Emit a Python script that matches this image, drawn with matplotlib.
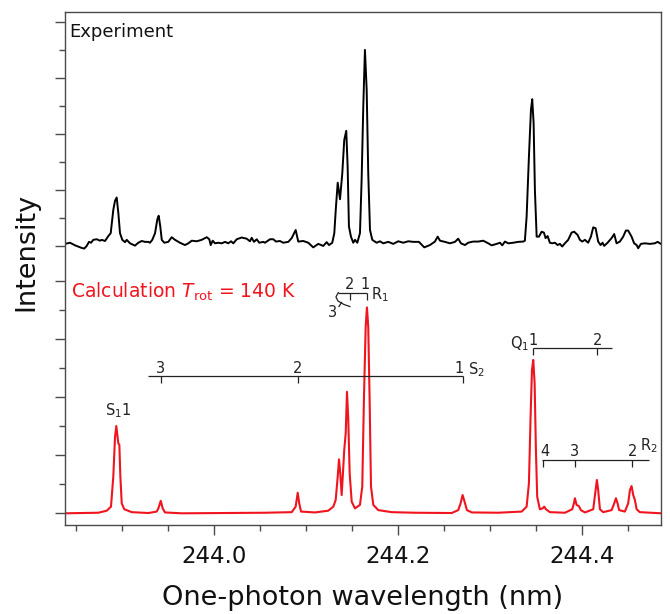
import matplotlib
matplotlib.use("Agg")
import matplotlib.pyplot as plt
import numpy as np

# ---------------- data ----------------
# Experimental trace: wavelength (nm), intensity (arb. units, relative to its own baseline)
exp_wl = [243.8380, 243.8435, 243.8489, 243.8562, 243.8590, 243.8616, 243.8641, 243.8663, 243.8688, 243.8725,
          243.8761, 243.8779, 243.8815, 243.8851, 243.8877, 243.8905, 243.8924, 243.8942, 243.8960, 243.8978,
          243.9003, 243.9033, 243.9051, 243.9087, 243.9141, 243.9177, 243.9214, 243.9250, 243.9286, 243.9304,
          243.9329, 243.9359, 243.9384, 243.9399, 243.9416, 243.9432, 243.9460, 243.9503, 243.9540, 243.9576,
          243.9630, 243.9685, 243.9721, 243.9758, 243.9812, 243.9866, 243.9921, 243.9949, 243.9964, 243.9986,
          244.0011, 244.0047, 244.0084, 244.0120, 244.0155, 244.0185, 244.0210, 244.0247, 244.0301, 244.0355,
          244.0391, 244.0410, 244.0435, 244.0464, 244.0492, 244.0536, 244.0554, 244.0609, 244.0645, 244.0674,
          244.0717, 244.0753, 244.0808, 244.0845, 244.0888, 244.0916, 244.0971, 244.1025, 244.1079, 244.1134,
          244.1188, 244.1225, 244.1250, 244.1286, 244.1308, 244.1326, 244.1345, 244.1370, 244.1395, 244.1416,
          244.1438, 244.1453, 244.1467, 244.1489, 244.1514, 244.1533, 244.1558, 244.1587, 244.1605, 244.1623,
          244.1641, 244.1660, 244.1677, 244.1696, 244.1721, 244.1768, 244.1804, 244.1840, 244.1895, 244.1949,
          244.2003, 244.2058, 244.2112, 244.2166, 244.2228, 244.2286, 244.2348, 244.2402, 244.2432, 244.2457,
          244.2511, 244.2565, 244.2620, 244.2655, 244.2685, 244.2728, 244.2764, 244.2818, 244.2873, 244.2927,
          244.2982, 244.3018, 244.3073, 244.3109, 244.3134, 244.3163, 244.3199, 244.3253, 244.3308, 244.3362,
          244.3380, 244.3399, 244.3424, 244.3446, 244.3460, 244.3475, 244.3489, 244.3508, 244.3533, 244.3562,
          244.3587, 244.3605, 244.3627, 244.3652, 244.3677, 244.3707, 244.3736, 244.3761, 244.3786, 244.3815,
          244.3851, 244.3888, 244.3916, 244.3953, 244.3978, 244.4003, 244.4033, 244.4068, 244.4098, 244.4123,
          244.4149, 244.4177, 244.4203, 244.4225, 244.4242, 244.4279, 244.4323, 244.4351, 244.4377, 244.4413,
          244.4449, 244.4478, 244.4503, 244.4540, 244.4568, 244.4595, 244.4612, 244.4641, 244.4685, 244.4739,
          244.4793, 244.4823, 244.4859]
exp_int = [0.006, 0.010, 0.001, -0.008, -0.010, -0.001, 0.013, 0.010, 0.020, 0.022,
           0.017, 0.020, 0.016, 0.033, 0.043, 0.123, 0.155, 0.166, 0.112, 0.043,
           0.020, 0.012, 0.020, 0.008, 0.000, 0.010, 0.016, 0.013, 0.013, 0.010,
           0.020, 0.043, 0.091, 0.103, 0.066, 0.020, 0.010, 0.013, 0.029, 0.020,
           0.010, 0.002, 0.008, 0.017, 0.015, 0.020, 0.029, 0.022, 0.002, 0.017,
           0.008, 0.010, 0.008, 0.013, 0.008, 0.015, 0.008, 0.022, 0.028, 0.024,
           0.015, 0.027, 0.013, 0.022, 0.010, 0.013, 0.010, 0.022, 0.022, 0.014,
           0.016, 0.010, 0.013, 0.026, 0.054, 0.014, 0.016, 0.010, -0.006, 0.006,
           -0.001, 0.012, 0.002, 0.010, 0.043, 0.134, 0.217, 0.160, 0.250, 0.364,
           0.396, 0.272, 0.066, 0.031, 0.010, 0.020, 0.010, 0.043, 0.227, 0.479,
           0.675, 0.537, 0.250, 0.054, 0.020, 0.010, 0.015, 0.008, 0.013, 0.006,
           0.015, 0.010, 0.015, 0.013, 0.013, -0.006, 0.002, 0.014, 0.031, 0.017,
           0.013, 0.008, 0.013, 0.024, 0.008, 0.002, 0.010, 0.014, 0.014, 0.017,
           0.008, 0.001, 0.006, 0.010, 0.001, 0.014, 0.008, 0.010, 0.013, 0.014,
           0.017, 0.100, 0.307, 0.468, 0.505, 0.422, 0.192, 0.031, 0.031, 0.048,
           0.045, 0.026, 0.033, 0.010, 0.008, 0.010, 0.002, 0.006, -0.003, 0.008,
           0.020, 0.045, 0.048, 0.037, 0.020, 0.014, 0.020, 0.010, 0.031, 0.063,
           0.060, 0.014, 0.002, 0.010, -0.001, 0.010, 0.026, 0.040, 0.008, 0.014,
           0.031, 0.052, 0.052, 0.031, 0.008, 0.002, -0.009, 0.006, 0.008, 0.006,
           0.008, 0.013, 0.006]
exp_offset = 0.923          # vertical offset of the experimental trace

# Calculated trace (T_rot = 140 K)
calc_wl = [243.8380, 243.8742, 243.8834, 243.8880, 243.8905, 243.8924, 243.8938, 243.8949, 243.8960, 243.8971,
           243.8982, 243.8997, 243.9025, 243.9105, 243.9286, 243.9377, 243.9395, 243.9421, 243.9442, 243.9467,
           243.9649, 244.0554, 244.0845, 244.0888, 244.0910, 244.0927, 244.0946, 244.1098, 244.1242, 244.1297,
           244.1323, 244.1345, 244.1359, 244.1373, 244.1388, 244.1402, 244.1416, 244.1432, 244.1446, 244.1460,
           244.1475, 244.1497, 244.1533, 244.1587, 244.1612, 244.1630, 244.1649, 244.1663, 244.1677, 244.1692,
           244.1707, 244.1732, 244.1786, 244.1932, 244.2185, 244.2584, 244.2655, 244.2679, 244.2703, 244.2728,
           244.2750, 244.2804, 244.3090, 244.3345, 244.3399, 244.3424, 244.3442, 244.3457, 244.3471, 244.3486,
           244.3500, 244.3514, 244.3543, 244.3573, 244.3590, 244.3609, 244.3652, 244.3815, 244.3895, 244.3913,
           244.3924, 244.3942, 244.3967, 244.3989, 244.4033, 244.4123, 244.4149, 244.4163, 244.4177, 244.4196,
           244.4232, 244.4323, 244.4351, 244.4370, 244.4388, 244.4405, 244.4467, 244.4503, 244.4522, 244.4540,
           244.4558, 244.4576, 244.4595, 244.4630, 244.4866]
calc_int = [0.000, 0.002, 0.009, 0.023, 0.126, 0.264, 0.301, 0.270, 0.241, 0.236,
            0.126, 0.034, 0.014, 0.004, 0.001, 0.006, 0.017, 0.043, 0.017, 0.003,
            0.000, 0.002, 0.004, 0.023, 0.071, 0.034, 0.006, 0.003, 0.009, 0.023,
            0.046, 0.126, 0.186, 0.138, 0.063, 0.138, 0.218, 0.276, 0.419, 0.322,
            0.138, 0.040, 0.017, 0.029, 0.092, 0.391, 0.643, 0.710, 0.643, 0.391,
            0.092, 0.029, 0.011, 0.004, 0.002, 0.001, 0.011, 0.032, 0.063, 0.036,
            0.011, 0.003, 0.002, 0.006, 0.023, 0.103, 0.333, 0.494, 0.529, 0.448,
            0.218, 0.057, 0.014, 0.017, 0.023, 0.014, 0.004, 0.002, 0.014, 0.034,
            0.052, 0.029, 0.025, 0.011, 0.003, 0.014, 0.080, 0.115, 0.080, 0.014,
            0.004, 0.011, 0.034, 0.052, 0.034, 0.011, 0.006, 0.034, 0.080, 0.094,
            0.063, 0.046, 0.014, 0.004, 0.000]

# Rotational-line assignment combs: (bar height, bar start, bar end, tick wavelengths, tick labels)
s2_y, s2_span = 0.473, (243.9283, 244.2703)
s2_ticks, s2_labels = [243.9421, 244.0913, 244.2703], ["3", "2", "1"]
r1_y, r1_span = 0.761, (244.1351, 244.1663)
r1_ticks, r1_labels = [244.1478, 244.1663], ["2", "1"]
q1_y, q1_span = 0.569, (244.3471, 244.4323)
q1_ticks, q1_labels = [244.3471, 244.4166], ["1", "2"]
r2_y, r2_span = 0.184, (244.3568, 244.4732)
r2_ticks, r2_labels = [244.3576, 244.3924, 244.4547], ["4", "3", "2"]

# y tick marks (two stacked panels)
calc_yticks = [0.0, 0.1, 0.2, 0.3, 0.4, 0.5, 0.6, 0.7, 0.8]
exp_ytick_step = 0.0962
n_exp_yticks = 9

xlim = (243.838, 244.486)
ylim = (-0.0403, 1.7286)

# ---------------- plot ----------------
RED = "#f0141e"
INK = "#222222"
plt.rcParams["font.family"] = ["DejaVu Sans"]

fig = plt.figure(figsize=(6.70, 6.14), dpi=100)
ax = fig.add_axes([65 / 670, 89 / 614, 596 / 670, 513 / 614])

ax.plot(exp_wl, np.array(exp_int) + exp_offset, color="black", lw=1.4, solid_joinstyle="round")
ax.plot(calc_wl, calc_int, color=RED, lw=1.5, solid_joinstyle="round")

ax.set_xlim(*xlim)
ax.set_ylim(*ylim)

# axes styling
for sp in ax.spines.values():
    sp.set_color("#4a4a4a")
    sp.set_linewidth(1.0)

ax.set_xticks([244.0, 244.2, 244.4])
ax.set_xticklabels(["244.0", "244.2", "244.4"])
ax.set_xticks(np.arange(243.85, 244.49, 0.05), minor=True)

exp_ticks = [exp_offset + k * exp_ytick_step for k in range(n_exp_yticks)]
major_y = [v for i, v in enumerate(calc_yticks) if i % 2 == 0] + [v for i, v in enumerate(exp_ticks) if i % 2 == 0]
minor_y = [v for i, v in enumerate(calc_yticks) if i % 2 == 1] + [v for i, v in enumerate(exp_ticks) if i % 2 == 1]
ax.set_yticks(major_y)
ax.set_yticks(minor_y, minor=True)
ax.set_yticklabels([])

ax.tick_params(axis="both", which="both", direction="out", color="#4a4a4a", width=1.0)
ax.tick_params(axis="both", which="major", length=7.5)
ax.tick_params(axis="both", which="minor", length=4)
ax.tick_params(axis="x", which="major", labelsize=16.5, pad=7, labelcolor="#111111")
ax.tick_params(top=False, right=False)

ax.set_xlabel("One-photon wavelength (nm)", fontsize=19.5, labelpad=12, color="#111111")
ax.set_ylabel("Intensity", fontsize=19.5, color="#111111")
ax.yaxis.set_label_coords(-0.043, 0.533)

# panel labels
ax.text(243.8424, 1.643, "Experiment", fontsize=13, color="#111111", va="baseline", ha="left")
ax.text(243.8446, 0.742, r"Calculation $T_\mathrm{rot}$ = 140 K", fontsize=13.5, color=RED,
        va="baseline", ha="left")

# assignment combs
drop = 0.024
def comb(y, span, ticks, labels, dx_pts=None):
    ax.hlines(y, span[0], span[1], color=INK, lw=0.9)
    ax.vlines(ticks, y - drop, y, color=INK, lw=0.9)
    for i, (t, lab) in enumerate(zip(ticks, labels)):
        dx = 0 if dx_pts is None else dx_pts[i]
        ax.annotate(lab, xy=(t, y), xytext=(dx, 2.5), textcoords="offset points",
                    ha="center", va="baseline", fontsize=10.5, color=INK)

comb(s2_y, s2_span, s2_ticks, s2_labels, dx_pts=[0, 0, -2.5])
comb(r1_y, r1_span, r1_ticks, r1_labels, dx_pts=[0, -1.2])
comb(q1_y, q1_span, q1_ticks, q1_labels)
comb(r2_y, r2_span, r2_ticks, r2_labels, dx_pts=[1.5, 0, 0])

# band-head hook of R1 (line 3 folds back)
hook_wl = [244.1351, 244.1326, 244.1348, 244.1413, 244.1478]
hook_y = [0.761, 0.746, 0.732, 0.720, 0.713]
ax.plot(hook_wl, hook_y, color=INK, lw=0.9)
ax.plot([244.1386, 244.1359], [0.727, 0.713], color=INK, lw=0.9)
ax.text(244.1293, 0.691, "3", fontsize=10.5, color=INK, ha="center", va="center")

# branch names
ax.text(244.2761, 0.481, r"S$_2$", fontsize=10.5, color=INK, ha="left", va="baseline")
ax.text(244.1707, 0.739, r"R$_1$", fontsize=10.5, color=INK, ha="left", va="baseline")
ax.text(244.3217, 0.570, r"Q$_1$", fontsize=10.5, color=INK, ha="left", va="baseline")
ax.text(244.4630, 0.218, r"R$_2$", fontsize=10.5, color=INK, ha="left", va="baseline")
ax.text(243.8957, 0.339, r"S$_1$1", fontsize=10.5, color=INK, ha="center", va="baseline")

fig.savefig("out.png", dpi=100)
